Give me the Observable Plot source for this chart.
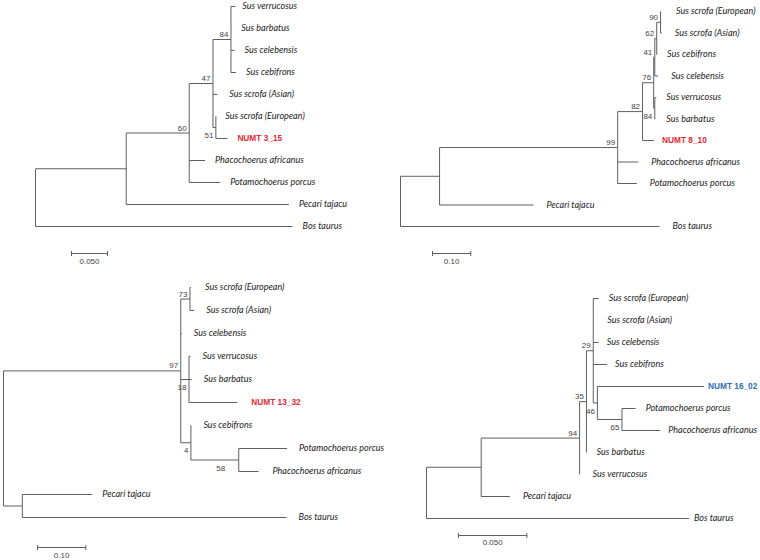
<!DOCTYPE html>
<html><head><meta charset="utf-8">
<script src="https://cdn.jsdelivr.net/npm/d3@7"></script>
<script src="https://cdn.jsdelivr.net/npm/@observablehq/plot@0.6"></script>
<style>
html,body{margin:0;padding:0;background:#fff;}
#wrap{position:relative;width:760px;height:560px;overflow:hidden;background:#fff;}
#wrap svg{position:absolute;overflow:visible;}
</style></head><body><div id="wrap"></div>
<script>
// ---------- DATA: trees as [node, parent, branch length, bootstrap] ----------
const tree1 = [
  ["root", null, 0, null],
  ["a", "root", 0.126, null],
  ["n60", "a", 0.0875, 60],
  ["n47", "n60", 0.033, 47],
  ["n84", "n47", 0.025, 84],
  ["Sus verrucosus", "n84", 0.006],
  ["Sus barbatus", "n84", 0.0005],
  ["Sus celebensis", "n84", 0.005],
  ["Sus cebifrons", "n84", 0.007],
  ["Sus scrofa (Asian)", "n47", 0.006],
  ["n51", "n47", 0.004, 51],
  ["Sus scrofa (European)", "n51", 0.0005],
  ["NUMT 3_15", "n51", 0.016],
  ["Phacochoerus africanus", "n60", 0.022],
  ["Potamochoerus porcus", "n60", 0.043],
  ["Pecari tajacu", "a", 0.226],
  ["Bos taurus", "root", 0.357]
];
const tree2 = [
  ["root", null, 0, null],
  ["b", "root", 0.102, null],
  ["n99", "b", 0.465, 99],
  ["n82", "n99", 0.065, 82],
  ["n76", "n82", 0.029, 76],
  ["n41", "n76", 0.003, 41],
  ["n62", "n41", 0.005, 62],
  ["n90", "n62", 0.010, 90],
  ["Sus scrofa (European)", "n90", 0.001],
  ["Sus scrofa (Asian)", "n90", 0.003],
  ["Sus cebifrons", "n62", 0.001],
  ["Sus celebensis", "n41", 0.009],
  ["n84", "n76", 0.003, 84],
  ["Sus verrucosus", "n84", 0.004],
  ["Sus barbatus", "n84", 0.001],
  ["NUMT 8_10", "n82", 0.030],
  ["Phacochoerus africanus", "n99", 0.054],
  ["Potamochoerus porcus", "n99", 0.050],
  ["Pecari tajacu", "b", 0.245],
  ["Bos taurus", "root", 0.676]
];
const tree3 = [
  ["root", null, 0, null],
  ["n97", "root", 0.367, 97],
  ["n73", "n97", 0.019, 73],
  ["Sus scrofa (European)", "n73", 0.002],
  ["Sus scrofa (Asian)", "n73", 0.009],
  ["Sus celebensis", "n97", 0.002],
  ["n18", "n97", 0.017, 18],
  ["Sus verrucosus", "n18", 0.003],
  ["Sus barbatus", "n18", 0.006],
  ["NUMT 13_32", "n18", 0.100],
  ["n4", "n97", 0.021, 4],
  ["Sus cebifrons", "n4", 0.001],
  ["n58", "n4", 0.099, 58],
  ["Potamochoerus porcus", "n58", 0.100],
  ["Phacochoerus africanus", "n58", 0.041],
  ["c", "root", 0.039, null],
  ["Pecari tajacu", "c", 0.145],
  ["Bos taurus", "c", 0.547]
];
const tree4 = [
  ["root", null, 0, null],
  ["d", "root", 0.040, null],
  ["n94", "d", 0.072, 94],
  ["n35", "n94", 0.005, 35],
  ["n29", "n35", 0.005, 29],
  ["Sus scrofa (European)", "n29", 0.004],
  ["Sus scrofa (Asian)", "n29", 0],
  ["Sus celebensis", "n29", 0.004],
  ["Sus cebifrons", "n29", 0.010],
  ["n46", "n29", 0.003, 46],
  ["NUMT 16_02", "n46", 0.078],
  ["n65", "n46", 0.018, 65],
  ["Potamochoerus porcus", "n65", 0.010],
  ["Phacochoerus africanus", "n65", 0.028],
  ["Sus barbatus", "n35", 0],
  ["Sus verrucosus", "n94", 0],
  ["Pecari tajacu", "d", 0.021],
  ["Bos taurus", "root", 0.192]
];
const highlights = ["NUMT 3_15", "NUMT 8_10", "NUMT 13_32", "NUMT 16_02"];
const scaleValues = [0.05, 0.10, 0.10, 0.05];
const scaleLabels = ["0.050", "0.10", "0.10", "0.050"];

// ---------- LAYOUT / STYLE ----------
const panels = [
  {tree: tree1, ox: 0,   oy: 0,   rootX: 35, ppu: 720,  yTop: 6,  yBot: 226, bar: [71, 253, 8],
   hiColor: "#e02b35", gap: 10, gapFor: {"Sus verrucosus": 7, "Sus scrofa (European)": 9, "Sus scrofa (Asian)": 12}, supNudge: {}},
  {tree: tree2, ox: 380, oy: 0,   rootX: 20, ppu: 383,  yTop: 11, yBot: 226, bar: [52, 253, 8],
   hiColor: "#e02b35", gap: 13, gapFor: {"NUMT 8_10": 8, "Sus cebifrons": 10, "Sus verrucosus": 10, "Sus barbatus": 11, "Sus scrofa (European)": 15}, supNudge: {}},
  {tree: tree3, ox: 0,   oy: 280, rootX: 3,  ppu: 483,  yTop: 7,  yBot: 237, bar: [37, 267, 8],
   hiColor: "#e02b35", gap: 12, gapFor: {"NUMT 13_32": 14, "Phacochoerus africanus": 14, "Pecari tajacu": 10, "Sus scrofa (European)": 14}, supNudge: {"58": -11}},
  {tree: tree4, ox: 380, oy: 280, rootX: 46, ppu: 1367, yTop: 18, yBot: 238, bar: [78, 255, 7],
   hiColor: "#2f6db5", gap: 10, gapFor: {"NUMT 16_02": 4, "Bos taurus": 5, "Pecari tajacu": 13, "Sus scrofa (Asian)": 14, "Sus verrucosus": 13, "Sus celebensis": 8, "Sus cebifrons": 8, "Phacochoerus africanus": 8}, supNudge: {}}
];
const lineColor = "#5f5f5f";
const labelFont = "Lato, 'Open Sans', sans-serif";
const hiFont = "'Liberation Sans', Arial, sans-serif";
const numFont = "'Liberation Sans', Arial, sans-serif";

function layout(tree) {
  const nodes = new Map();
  tree.forEach(([id, parent, len, support]) => nodes.set(id, {id, parent, len, support, children: []}));
  for (const n of nodes.values()) if (n.parent) nodes.get(n.parent).children.push(n);
  const root = [...nodes.values()].find(n => !n.parent);
  let leaf = 0;
  (function walk(n, depth) {
    n.x = depth;
    if (!n.children.length) { n.y = leaf++; return; }
    n.children.forEach(c => walk(c, depth + c.len));
    n.y = (n.children[0].y + n.children[n.children.length - 1].y) / 2;
  })(root, 0);
  return {nodes: [...nodes.values()], byId: nodes, leafCount: leaf};
}

const wrap = document.getElementById("wrap");
panels.forEach((cfg, i) => {
  const {nodes, byId, leafCount} = layout(cfg.tree);
  const step = (cfg.yBot - cfg.yTop) / (leafCount - 1);
  const toX = px => (px - cfg.rootX) / cfg.ppu;
  const toY = py => (py - cfg.yTop) / step;
  const edges = nodes.filter(n => n.parent).map(n => ({x1: byId.get(n.parent).x, x2: n.x, y: n.y}));
  const verts = nodes.filter(n => n.children.length).map(n => ({x: n.x, y1: n.children[0].y, y2: n.children[n.children.length - 1].y}));
  const leaves = nodes.filter(n => !n.children.length);
  const species = leaves.filter(n => !highlights.includes(n.id));
  const hi = leaves.filter(n => highlights.includes(n.id));
  const gapOf = d => (cfg.gapFor[d.id] ?? cfg.gap) / cfg.ppu;
  const sup = nodes.filter(n => n.support != null).map(n => {
    const p = byId.get(n.parent);
    return {...n, above: p.children[0] === n, nudge: (cfg.supNudge[String(n.support)] ?? 0) / cfg.ppu};
  });
  const bx1 = toX(cfg.bar[0]), bx2 = bx1 + scaleValues[i], by = toY(cfg.bar[1]);
  const cap = 2.5 / step;
  const bar = [{x1: bx1, x2: bx2, y1: by, y2: by}, {x1: bx1, x2: bx1, y1: by - cap, y2: by + cap}, {x1: bx2, x2: bx2, y1: by - cap, y2: by + cap}];
  const svg = Plot.plot({
    width: 380, height: 280, margin: 0,
    x: {type: "linear", domain: [0, 1], range: [cfg.rootX, cfg.rootX + cfg.ppu], axis: null},
    y: {type: "linear", domain: [0, leafCount - 1], range: [cfg.yTop, cfg.yBot], axis: null},
    style: {background: "transparent", overflow: "visible"},
    marks: [
      Plot.link(edges, {x1: "x1", x2: "x2", y1: "y", y2: "y", stroke: lineColor, strokeWidth: 1}),
      Plot.link(verts, {x1: "x", x2: "x", y1: "y1", y2: "y2", stroke: lineColor, strokeWidth: 1}),
      Plot.text(species, {x: d => d.x + gapOf(d), y: "y", text: "id", textAnchor: "start", fontStyle: "italic", fontSize: 9, fontFamily: labelFont, fill: "#222"}),
      Plot.text(hi, {x: d => d.x + gapOf(d), y: "y", text: "id", textAnchor: "start", fontWeight: "bold", fontSize: 8.3, fontFamily: hiFont, fill: cfg.hiColor}),
      Plot.text(sup.filter(d => d.above), {x: d => d.x + d.nudge, y: "y", text: d => String(d.support), textAnchor: "end", dx: -2.5, dy: -5, fontSize: 8, fontFamily: numFont, fill: "#444"}),
      Plot.text(sup.filter(d => !d.above), {x: d => d.x + d.nudge, y: "y", text: d => String(d.support), textAnchor: "end", dx: -2.5, dy: 8, fontSize: 8, fontFamily: numFont, fill: "#444"}),
      Plot.link(bar, {x1: "x1", x2: "x2", y1: "y1", y2: "y2", stroke: lineColor, strokeWidth: 1}),
      Plot.text([{x: (bx1 + bx2) / 2, y: by, t: scaleLabels[i]}], {x: "x", y: "y", text: "t", dy: cfg.bar[2], fontSize: 8, fontFamily: numFont, fill: "#444"})
    ]
  });
  svg.style.left = cfg.ox + "px";
  svg.style.top = cfg.oy + "px";
  wrap.appendChild(svg);
});
</script></body></html>
